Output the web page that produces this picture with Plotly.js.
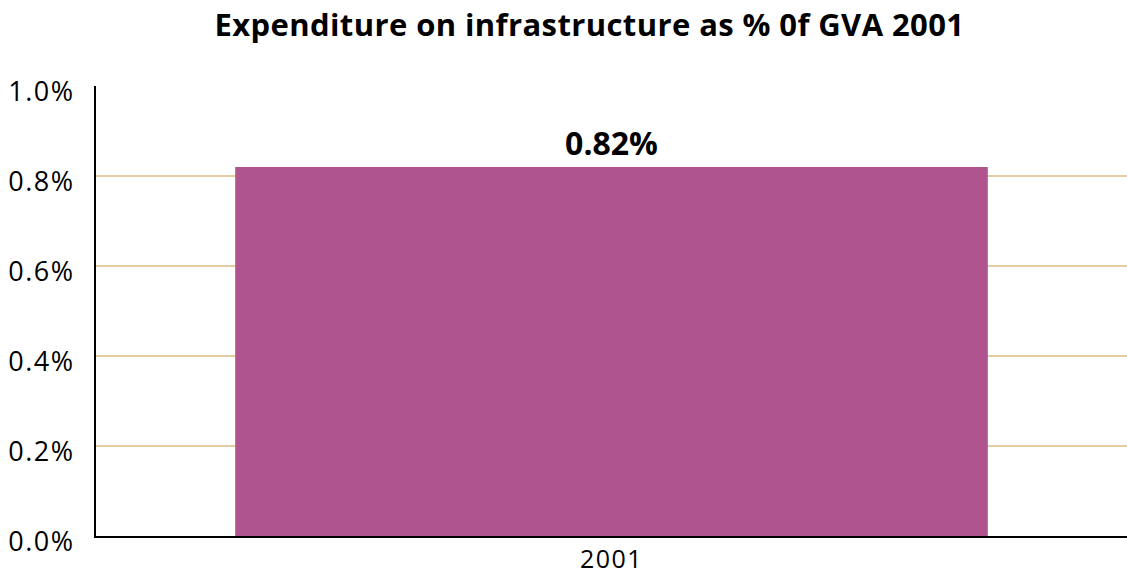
<!DOCTYPE html>
<html>
<head>
<meta charset="utf-8">
<script src="https://cdn.plot.ly/plotly-3.0.1.min.js"></script>
<style>
html,body{margin:0;padding:0;background:#fff;}
#chart{width:1127px;height:576px;}
#chart .gtitle{letter-spacing:0.4px;}
#chart .ytick text{letter-spacing:1.5px;}
#chart .xtick text{letter-spacing:1.5px;}
#chart .textpoint text{letter-spacing:2px;}
</style>
</head>
<body>
<div id="chart"></div>
<script>
const categories = ['2001'];
const values = [0.0082];
const labels = ['0.82%'];
const tickVals = [0, 0.002, 0.004, 0.006, 0.008, 0.01];

const FONT = 'Open Sans, Noto Sans, sans-serif';

const trace = {
  type: 'bar',
  x: categories,
  y: values,
  text: labels,
  textposition: 'outside',
  textfont: {family: FONT, size: 32, color: '#000'},
  texttemplate: '<b>%{text}</b>',
  cliponaxis: false,
  marker: {color: '#B0548F'},
  width: 0.73,
  hoverinfo: 'none'
};

const layout = {
  width: 1127, height: 576,
  margin: {l: 96, r: 0, t: 86, b: 40},
  paper_bgcolor: '#fff', plot_bgcolor: '#fff',
  title: {text: '<b>Expenditure on infrastructure as % 0f GVA 2001</b>', x: 0.523, xanchor: 'center', y: 0.975, yanchor: 'top',
    font: {family: FONT, size: 31, color: '#000'}},
  xaxis: {
    type: 'category',
    showline: true, linecolor: '#000', linewidth: 2,
    ticks: '', tickfont: {family: FONT, size: 25, color: '#000'},
    showgrid: false, zeroline: false
  },
  yaxis: {
    range: [0, 0.01], tickvals: tickVals, tickformat: '.1%',
    showline: true, linecolor: '#000', linewidth: 2,
    showgrid: true, gridcolor: '#E4CDA2', gridwidth: 2,
    zeroline: false, ticks: '', ticklabelstandoff: 14, ticklabelshift: 6,
    tickfont: {family: FONT, size: 27, color: '#000'}
  },
  showlegend: false
};

Plotly.newPlot('chart', [trace], layout, {displayModeBar: false, staticPlot: true});
</script>
</body>
</html>
